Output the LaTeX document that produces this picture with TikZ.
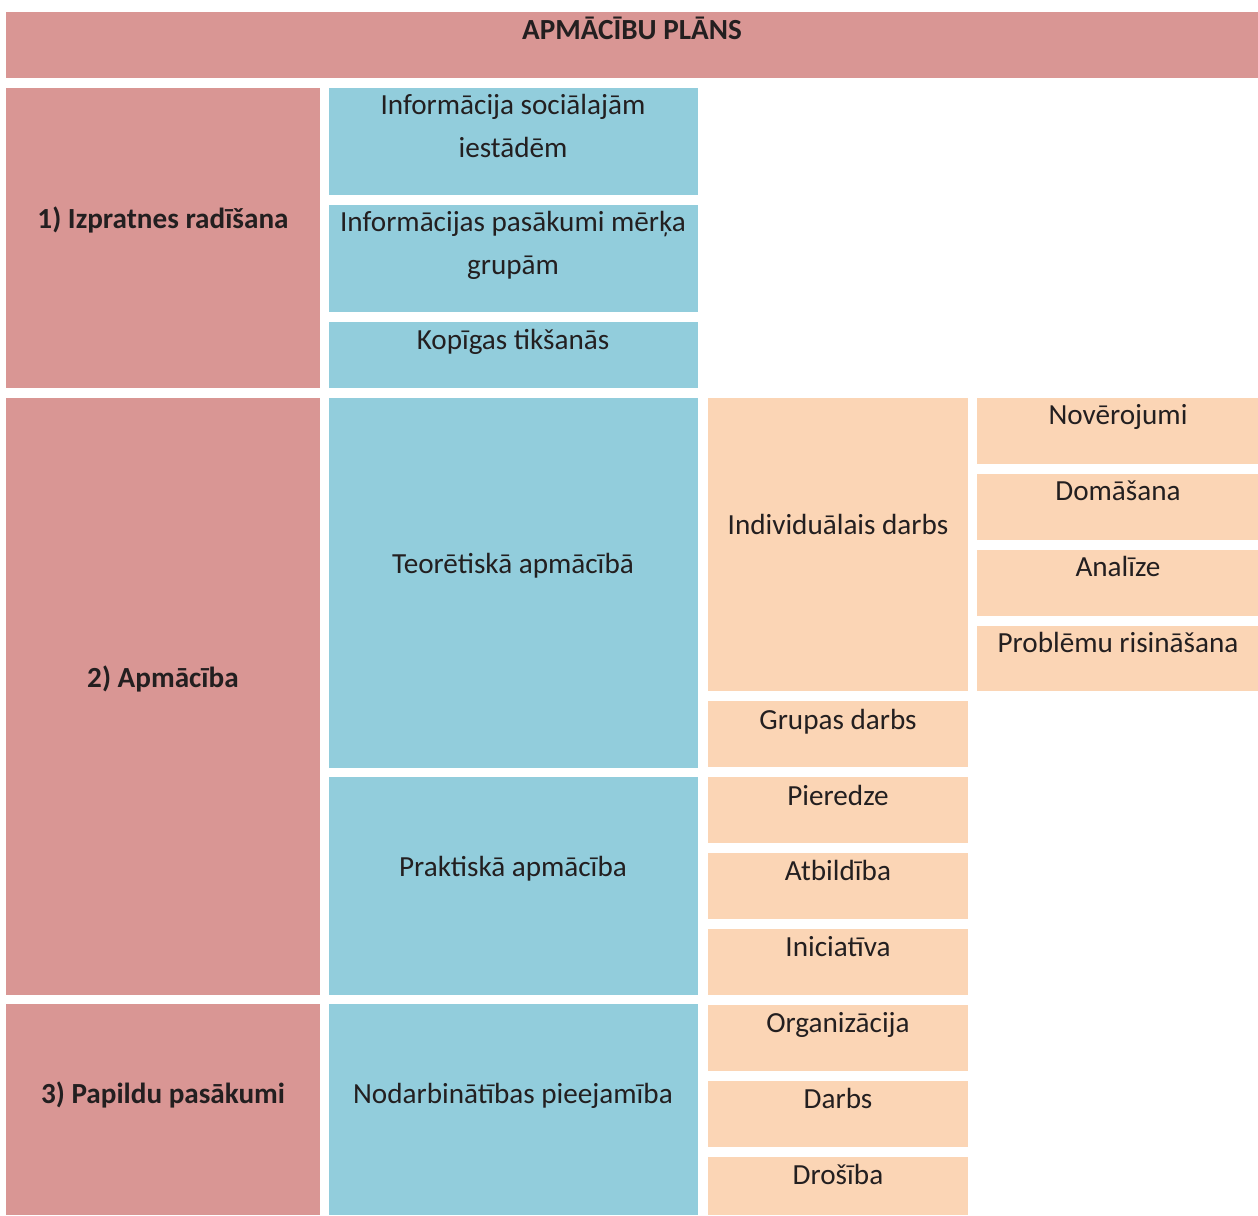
\documentclass[tikz,border=0pt]{standalone}
\usepackage{fontspec}
\setmainfont{Carlito}
\usetikzlibrary{positioning}
\definecolor{planpink}{HTML}{D99694}
\definecolor{planblue}{HTML}{92CDDC}
\definecolor{planpeach}{HTML}{FBD5B5}
\definecolor{plantext}{HTML}{231F20}
\tikzset{
  lvlA/.style ={fill=planpink},
  lvlB/.style ={fill=planblue},
  lvlC/.style ={fill=planpeach},
  txt/.style  ={anchor=base, align=center, inner sep=0pt, text=plantext,
                font=\fontsize{16.6}{24}\selectfont},
  txtb/.style ={txt, font=\fontsize{16.6}{24}\selectfont\bfseries}
}

\begin{document}
\begin{tikzpicture}[x=0.02cm, y=-0.02cm]
  \useasboundingbox (0,0) rectangle (1258,1215);
  % title bar
  \path[lvlA] (6,12) rectangle (1258,78);
  \node[txtb] (title) at (632,39) {APMĀCĪBU PLĀNS};
  % first column
  \path[lvlA] (6,88) rectangle (320,388);
  \path[lvlA] (6,398) rectangle (320,995);
  \path[lvlA] (6,1004) rectangle (320,1215);
  \node[txtb] (izpr) at (163,228) {1) Izpratnes radīšana};
  \node[txtb] (apm)  at (163,687) {2) Apmācība};
  \node[txtb] (pap)  at (163,1103) {3) Papildu pasākumi};
  % second column
  \path[lvlB] (329,88) rectangle (698,195);
  \path[lvlB] (329,205) rectangle (698,312);
  \path[lvlB] (329,322) rectangle (698,388);
  \path[lvlB] (329,398) rectangle (698,768);
  \path[lvlB] (329,777) rectangle (698,995);
  \path[lvlB] (329,1004) rectangle (698,1215);
  \node[txt] (socinf) at (513,157) {Informācija sociālajām\\iestādēm};
  \node[txt] (grpinf) at (513,274) {Informācijas pasākumi mērķa\\grupām};
  \node[txt] (tiks)   at (513,349) {Kopīgas tikšanās};
  \node[txt] (teor)   at (513,573) {Teorētiskā apmācībā};
  \node[txt] (prakt)  at (513,876) {Praktiskā apmācība};
  \node[txt] (nodarb) at (513,1103) {Nodarbinātības pieejamība};
  % third column
  \path[lvlC] (708,398) rectangle (968,691);
  \path[lvlC] (708,701) rectangle (968,767);
  \path[lvlC] (708,777) rectangle (968,843);
  \path[lvlC] (708,853) rectangle (968,919);
  \path[lvlC] (708,929) rectangle (968,995);
  \path[lvlC] (708,1005) rectangle (968,1071);
  \path[lvlC] (708,1081) rectangle (968,1147);
  \path[lvlC] (708,1157) rectangle (968,1215);
  \node[txt] (indiv) at (838,534) {Individuālais darbs};
  \node[txt] (grupa) at (838,729) {Grupas darbs};
  \node[txt] (pier)  at (838,805) {Pieredze};
  \node[txt] (atb)   at (838,880) {Atbildība};
  \node[txt] (inic)  at (838,956) {Iniciatīva};
  \node[txt] (org)   at (838,1032) {Organizācija};
  \node[txt] (darbs) at (838,1108) {Darbs};
  \node[txt] (dros)  at (838,1184) {Drošība};
  % fourth column
  \path[lvlC] (977,398) rectangle (1258,464);
  \path[lvlC] (977,474) rectangle (1258,540);
  \path[lvlC] (977,550) rectangle (1258,616);
  \path[lvlC] (977,626) rectangle (1258,691);
  \node[txt] (nov) at (1118,424) {Novērojumi};
  \node[txt] (dom) at (1118,500) {Domāšana};
  \node[txt] (anal) at (1118,576) {Analīze};
  \node[txt] (probl) at (1118,652) {Problēmu risināšana};
\end{tikzpicture}
\end{document}
